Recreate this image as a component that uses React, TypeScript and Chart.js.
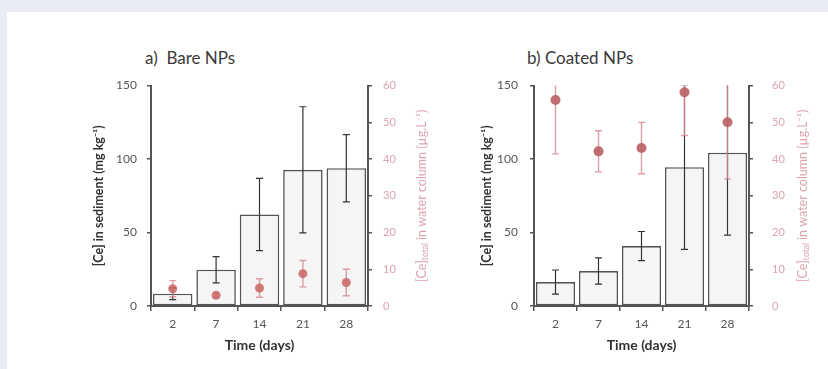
import React, { useEffect, useRef } from 'react';
import { Chart, registerables } from 'chart.js';

Chart.register(...registerables);
Chart.defaults.font.family = 'Lato, "Open Sans", sans-serif';

const days = ['2', '7', '14', '21', '28'];
const sedimentTicks = [0, 50, 100, 150];
const waterTicks = [0, 10, 20, 30, 40, 50, 60];

const bareSediment = [8.4, 24.7, 62.3, 92.7, 93.8];
const bareSedimentErr = [4, 8.9, 24.6, 42.9, 22.9];
const bareWater = [4.7, 2.9, 4.9, 8.8, 6.4];
const bareWaterErr = [2.2, 0.6, 2.5, 3.6, 3.6];

const coatedSediment = [16.3, 23.8, 40.8, 94.5, 104.3];
const coatedSedimentErr = [8.2, 8.9, 9.9, 56, 56];
const coatedWater = [56.1, 42.1, 43, 58.2, 50];
const coatedWaterErr = [14.7, 5.6, 7, 11.8, 15.4];

const AXIS = '#555555';
const PINK = '#dca3ae';

function drawErr(chart: any, index: number) {
  const ds = chart.data.datasets[index];
  if (!ds || !ds.errors) return;
  const meta = chart.getDatasetMeta(index);
  const yScale = chart.scales[meta.yAxisID];
  const { ctx, chartArea } = chart;
  ctx.save();
  ctx.beginPath();
  ctx.rect(chartArea.left, chartArea.top, chartArea.width, chartArea.height + 2);
  ctx.clip();
  ctx.strokeStyle = ds.errColor;
  ctx.lineWidth = ds.errWidth;
  meta.data.forEach((el: any, i: number) => {
    const v = ds.data[i];
    const e = ds.errors[i];
    const x = el.x;
    const yHi = yScale.getPixelForValue(v + e);
    const yLo = yScale.getPixelForValue(v - e);
    const c = ds.errCap;
    ctx.beginPath();
    ctx.moveTo(x, yHi);
    ctx.lineTo(x, yLo);
    ctx.moveTo(x - c, yHi);
    ctx.lineTo(x + c, yHi);
    ctx.moveTo(x - c, yLo);
    ctx.lineTo(x + c, yLo);
    ctx.stroke();
  });
  ctx.restore();
}

const errorBarPlugin = {
  id: 'errorBars',
  beforeDatasetDraw(chart: any, args: any) {
    const ds = chart.data.datasets[args.index];
    if (ds.errBefore) drawErr(chart, args.index);
  },
  afterDatasetDraw(chart: any, args: any) {
    const ds = chart.data.datasets[args.index];
    if (!ds.errBefore) drawErr(chart, args.index);
  },
};

const rightTitlePlugin = {
  id: 'rightTitle',
  afterDraw(chart: any) {
    const opts = chart.options.plugins.rightTitle;
    if (!opts) return;
    const { ctx, chartArea } = chart;
    const x = chartArea.right + opts.offset;
    const y = (chartArea.top + chartArea.bottom) / 2;
    const main = '12.5px Lato, "Open Sans", sans-serif';
    const sub = '8.5px Lato, "Open Sans", sans-serif';
    const parts: [string, string, number][] = [
      ['[Ce]', main, 0],
      ['total', sub, 3],
      [' in water column (µg.L⁻¹)', main, 0],
    ];
    ctx.save();
    ctx.translate(x, y);
    ctx.rotate(-Math.PI / 2);
    ctx.fillStyle = PINK;
    ctx.textBaseline = 'middle';
    let total = 0;
    parts.forEach(([t, f]) => {
      ctx.font = f;
      total += ctx.measureText(t).width;
    });
    let cx = -total / 2;
    parts.forEach(([t, f, dy]) => {
      ctx.font = f;
      ctx.textAlign = 'left';
      ctx.fillText(t, cx, dy);
      cx += ctx.measureText(t).width;
    });
    ctx.restore();
  },
};

type PanelProps = {
  left: number;
  top: number;
  width: number;
  height: number;
  leftW: number;
  rightW: number;
  leftTitlePad: number;
  leftTickPad: number;
  rightTickPad: number;
  rightTitleOffset: number;
  sediment: number[];
  sedimentErr: number[];
  water: number[];
  waterErr: number[];
  pointColor: string;
  pointRadius: number;
};

function Panel(p: PanelProps) {
  const ref = useRef<HTMLCanvasElement>(null);
  useEffect(() => {
    if (!ref.current) return;
    const chart = new Chart(ref.current, {
      type: 'bar',
      data: {
        labels: days,
        datasets: [
          {
            type: 'line',
            label: 'water',
            data: p.water,
            yAxisID: 'y2',
            showLine: false,
            pointRadius: p.pointRadius,
            pointBackgroundColor: p.pointColor,
            pointBorderColor: p.pointColor,
            pointBorderWidth: 0,
            order: 0,
            errors: p.waterErr,
            errColor: 'rgba(214,140,150,0.85)',
            errWidth: 1.4,
            errCap: 3.5,
            errBefore: true,
          } as any,
          {
            type: 'bar',
            label: 'sediment',
            data: p.sediment,
            yAxisID: 'y',
            backgroundColor: '#f5f5f5',
            borderColor: '#555555',
            borderWidth: 1.6,
            borderSkipped: false,
            barPercentage: 0.91,
            categoryPercentage: 1,
            order: 1,
            errors: p.sedimentErr,
            errColor: '#333333',
            errWidth: 1.2,
            errCap: 3.5,
            errBefore: false,
          } as any,
        ],
      },
      options: {
        responsive: false,
        animation: false,
        devicePixelRatio: 1,
        layout: { padding: 0 },
        plugins: {
          legend: { display: false },
          tooltip: { enabled: false },
          rightTitle: { offset: p.rightTitleOffset },
        } as any,
        scales: {
          x: {
            type: 'category',
            grid: { offset: true, drawOnChartArea: false, drawTicks: true, tickLength: 5, color: AXIS, lineWidth: 1.5 },
            border: { display: true, color: AXIS, width: 2 },
            ticks: { color: '#555', font: { size: 12 }, padding: 6, maxRotation: 0 },
            title: { display: true, text: 'Time (days)', color: '#333', font: { size: 14, weight: 'bold' }, padding: { top: 0, bottom: 15 } },
            afterFit: (s: any) => { s.height = 63; },
          },
          y: {
            position: 'left',
            min: 0,
            max: 150,
            afterBuildTicks: (s: any) => { s.ticks = sedimentTicks.map((v) => ({ value: v })); },
            grid: { drawOnChartArea: false, drawTicks: true, tickLength: 4, color: AXIS, lineWidth: 1.5 },
            border: { display: true, color: AXIS, width: 2 },
            ticks: { color: '#555', font: { size: 12 }, padding: p.leftTickPad },
            title: { display: true, text: '[Ce] in sediment (mg kg⁻¹)', color: '#333', font: { size: 12.5, weight: 'bold' }, padding: { top: p.leftTitlePad, bottom: 0 } },
            afterFit: (s: any) => { s.width = p.leftW; },
          },
          y2: {
            position: 'right',
            min: 0,
            max: 60,
            afterBuildTicks: (s: any) => { s.ticks = waterTicks.map((v) => ({ value: v })); },
            grid: { drawOnChartArea: false, drawTicks: true, tickLength: 4, color: AXIS, lineWidth: 1.5 },
            border: { display: true, color: AXIS, width: 2 },
            ticks: { color: PINK, font: { size: 11 }, padding: p.rightTickPad },
            afterFit: (s: any) => { s.width = p.rightW; },
          },
        },
      } as any,
      plugins: [errorBarPlugin, rightTitlePlugin] as any,
    });
    return () => chart.destroy();
  }, []);
  return (
    <canvas
      ref={ref}
      width={p.width}
      height={p.height}
      style={{ position: 'absolute', left: p.left, top: p.top, width: p.width, height: p.height }}
    />
  );
}

export default function App() {
  return (
    <div
      style={{
        position: 'absolute',
        left: 0,
        top: 0,
        width: 828,
        height: 369,
        overflow: 'hidden',
        background: '#e9edf3',
        fontFamily: 'Lato, "Open Sans", sans-serif',
      }}
    >
      <div style={{ position: 'absolute', left: 7, top: 12, width: 821, height: 357, background: '#ffffff' }} />
      <div style={{ position: 'absolute', left: 145, top: 47, fontSize: 17, color: '#3a3a3a', whiteSpace: 'pre', lineHeight: '22px' }}>
        a)  Bare NPs
      </div>
      <div style={{ position: 'absolute', left: 527, top: 47, fontSize: 17, color: '#3a3a3a', whiteSpace: 'pre', lineHeight: '22px' }}>
        b) Coated NPs
      </div>
      <Panel
        left={80}
        top={68}
        width={370}
        height={301}
        leftW={71}
        rightW={82}
        leftTitlePad={11}
        leftTickPad={10}
        rightTickPad={11}
        rightTitleOffset={54}
        sediment={bareSediment}
        sedimentErr={bareSedimentErr}
        water={bareWater}
        waterErr={bareWaterErr}
        pointColor="rgba(205,100,100,0.85)"
        pointRadius={4.5}
      />
      <Panel
        left={460}
        top={60}
        width={368}
        height={309}
        leftW={74}
        rightW={79}
        leftTitlePad={19}
        leftTickPad={12}
        rightTickPad={19}
        rightTitleOffset={54}
        sediment={coatedSediment}
        sedimentErr={coatedSedimentErr}
        water={coatedWater}
        waterErr={coatedWaterErr}
        pointColor="rgba(185,95,100,0.9)"
        pointRadius={5}
      />
    </div>
  );
}
